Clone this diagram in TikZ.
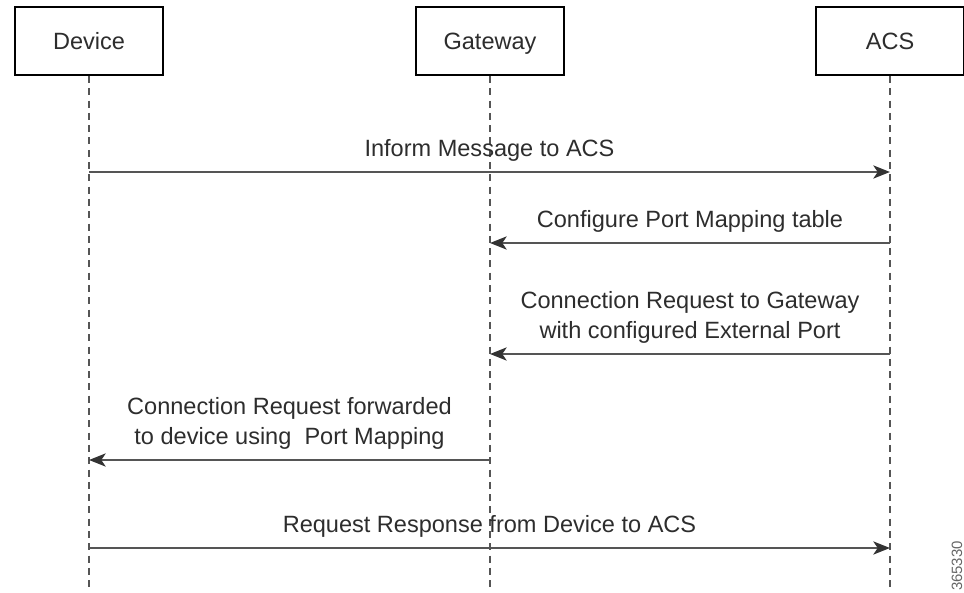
\documentclass[tikz,border=0pt]{standalone}
\usepackage{fontspec}
\setmainfont{Liberation Sans}
\definecolor{msggray}{RGB}{85,85,85}
\definecolor{textgray}{RGB}{45,45,45}
\usetikzlibrary{arrows.meta,positioning,calc}

\begin{document}
\begin{tikzpicture}[x=0.02cm, y=-0.02cm,
    every node/.style={font=\fontsize{13.4}{17}\selectfont, text=textgray},
    party/.style={draw=black, line width=1.1pt, fill=white, minimum width=2.96cm, minimum height=1.36cm, text height=9.6pt, text depth=0pt},
    lifeline/.style={msggray, line width=0.8pt, dash pattern=on 4pt off 3pt},
    msg/.style={msggray, line width=1.1pt, -{Stealth[length=9.5pt, width=7.5pt, inset=2.5pt, black!80]}},
    msglabel/.style={above=0.3cm, inner sep=0pt, text depth=0pt, align=center}]
    \useasboundingbox (0,0) rectangle (964,592);
    % participants and their lifelines
    \foreach \name/\x/\label in {dev/89/Device, gw/490/Gateway, acs/890/ACS} {
        \node[party] (\name) at (\x,41) {\label};
        \coordinate (\name-end) at (\x,592);
        \draw[lifeline] (\name.south) -- (\name-end);
    }
    % message rows
    \foreach \n/\y in {1/172, 2/243, 3/354, 4/460, 5/548} {
        \coordinate (dev\n) at (dev |- 0,\y);
        \coordinate (gw\n) at (gw |- 0,\y);
        \coordinate (acs\n) at (acs |- 0,\y);
    }
    \draw[msg] (dev1) -- node[msglabel] {Inform Message to ACS} (acs1);
    \draw[msg] (acs2) -- node[msglabel] {Configure Port Mapping table} (gw2);
    \draw[msg] (acs3) -- node[msglabel] {Connection Request to Gateway\\with configured External Port} (gw3);
    \draw[msg] (gw4) -- node[msglabel] {Connection Request forwarded\\to device using\ \ Port Mapping} (dev4);
    \draw[msg] (dev5) -- node[msglabel] {Request Response from Device to ACS} (acs5);
    % figure number
    \node[rotate=90, font=\fontsize{8.5}{10}\selectfont, text=black!60] (fignum) at (957,566) {365330};
\end{tikzpicture}
\end{document}
